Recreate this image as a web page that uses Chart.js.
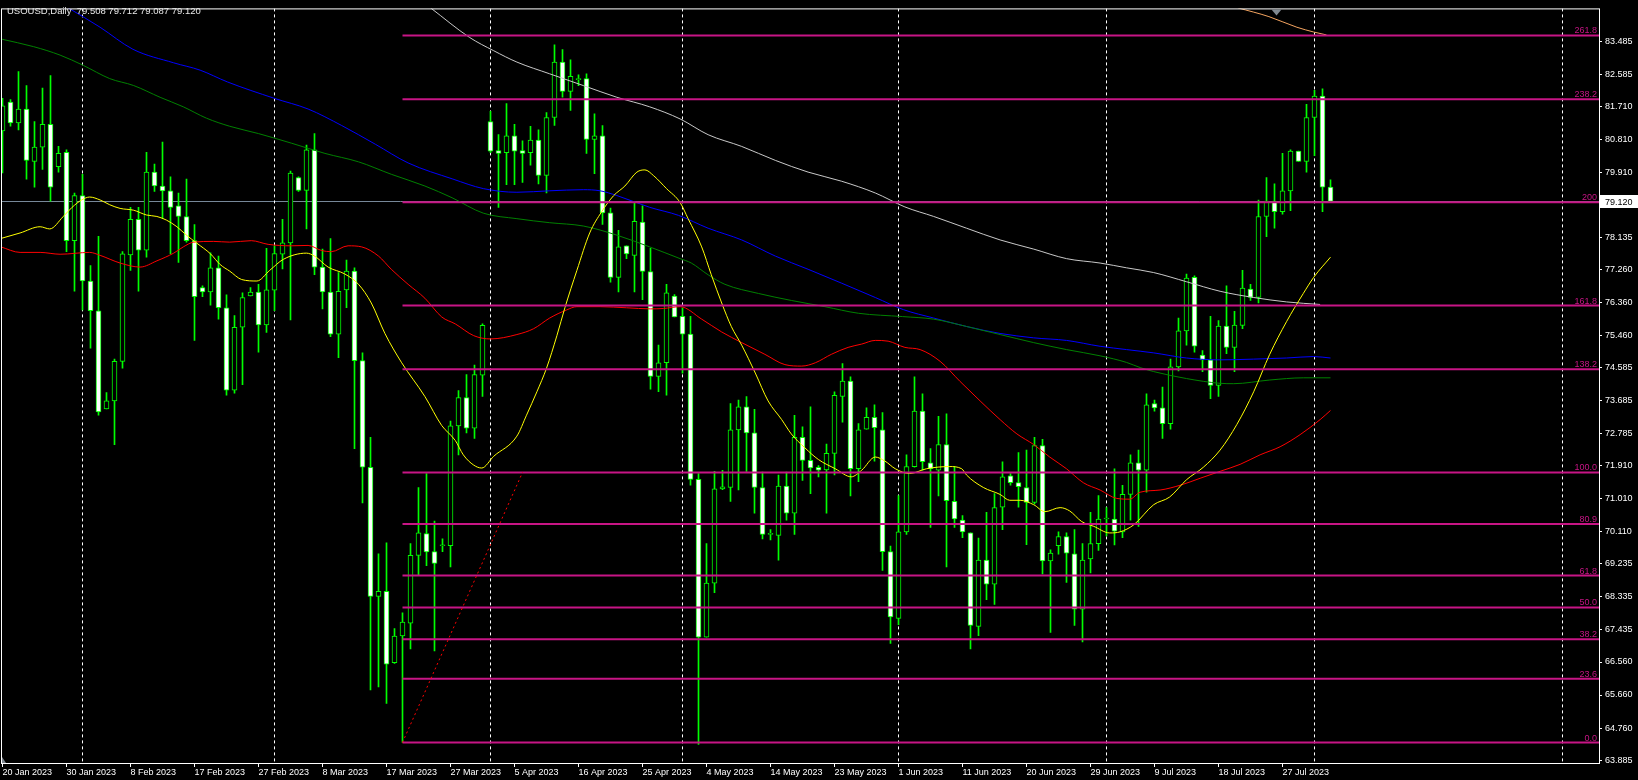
<!DOCTYPE html>
<html>
<head>
<meta charset="utf-8">
<title>USOUSD Daily</title>
<script src="https://cdn.jsdelivr.net/npm/chart.js@4.4.0/dist/chart.umd.min.js"></script>
<style>
  html, body { margin: 0; padding: 0; background: #000; }
  #wrap { position: relative; width: 1638px; height: 780px; }
</style>
</head>
<body>
<div id="wrap"><canvas id="chart"></canvas></div>
<script>
// USOUSD daily candles, 20 Jan 2023 .. 3 Aug 2023 (bar index = position)

const headerText = 'USOUSD,Daily  79.508 79.712 79.087 79.120';

const openP = [
  81.04, 81.83, 81.26, 81.64, 80.21, 80.60, 81.22, 80.07, 80.46, 78.05,
  79.28, 76.95, 76.14, 73.46, 73.68, 74.76, 77.66, 78.63, 77.79, 79.92,
  79.54, 79.41, 79.00, 78.71, 78.05, 76.77, 76.65, 77.31, 76.22, 73.97,
  75.69, 76.54, 76.65, 75.75, 76.70, 77.68, 77.99, 79.77, 79.42, 80.53,
  77.33, 76.65, 75.50, 76.71, 77.22, 74.78, 71.87, 68.35, 68.49, 66.54,
  67.27, 67.62, 69.47, 70.06, 69.57, 69.73, 69.73, 73.00, 73.77, 72.94,
  74.38, 81.30, 80.51, 80.45, 80.91, 80.51, 80.45, 80.79, 79.83, 81.41,
  82.92, 82.12, 82.44, 82.47, 80.81, 80.91, 78.81, 77.05, 77.91, 77.65,
  78.56, 77.21, 74.35, 74.72, 76.54, 75.99, 75.50, 71.54, 67.24, 68.71,
  71.28, 71.32, 72.89, 73.52, 72.81, 71.32, 70.04, 70.01, 71.36, 70.62,
  72.69, 72.06, 71.87, 71.80, 72.25, 73.80, 74.22, 71.83, 72.91, 73.23,
  72.89, 69.57, 67.75, 70.11, 71.89, 73.40, 71.99, 71.79, 72.49, 70.94,
  70.43, 70.08, 67.53, 69.34, 68.68, 70.78, 71.64, 71.45, 71.32, 70.91,
  72.46, 69.32, 69.73, 69.98, 69.51, 68.00, 69.37, 69.79, 70.46, 70.46,
  70.11, 71.13, 71.99, 71.79, 73.61, 73.49, 73.06, 74.61, 75.59, 77.05,
  74.93, 74.80, 74.10, 75.72, 75.14, 75.74, 76.73, 76.50, 78.71, 79.13,
  78.84, 79.41, 80.49, 80.21, 81.41, 81.99, 79.508
];
const highP = [
  81.93, 81.90, 82.66, 82.28, 81.30, 82.21, 82.55, 80.62, 80.53, 79.35,
  79.86, 77.37, 78.17, 73.91, 74.82, 77.75, 78.96, 78.96, 80.46, 80.14,
  80.74, 79.79, 79.35, 79.73, 78.49, 76.82, 77.72, 77.63, 76.57, 76.01,
  76.63, 76.77, 76.86, 77.84, 77.91, 78.63, 79.95, 79.79, 80.66, 80.97,
  77.82, 78.11, 77.18, 77.52, 77.31, 74.99, 72.69, 69.51, 69.81, 67.47,
  67.90, 69.79, 71.32, 71.70, 70.40, 69.92, 73.13, 73.96, 74.40, 74.66,
  75.78, 81.58, 80.94, 81.79, 81.22, 80.77, 81.17, 81.07, 81.54, 83.39,
  83.26, 82.98, 82.57, 82.60, 81.51, 81.19, 78.94, 78.33, 77.91, 79.09,
  79.00, 77.84, 75.20, 76.86, 76.58, 76.22, 75.99, 71.70, 69.79, 71.76,
  71.79, 73.61, 73.70, 73.80, 73.45, 71.74, 70.17, 71.66, 71.74, 73.29,
  72.97, 73.52, 71.92, 72.50, 73.93, 74.70, 74.34, 73.06, 73.49, 73.57,
  73.36, 69.72, 71.10, 72.21, 74.34, 73.87, 72.38, 73.26, 73.33, 71.89,
  70.55, 70.08, 69.94, 70.64, 71.15, 72.02, 71.70, 72.27, 72.34, 72.69,
  72.63, 69.62, 70.11, 70.08, 70.17, 69.79, 70.64, 71.10, 70.77, 71.83,
  71.38, 72.21, 72.34, 73.87, 73.70, 74.06, 74.82, 75.94, 77.14, 77.09,
  75.05, 75.99, 75.87, 76.82, 76.12, 77.24, 76.86, 79.16, 79.77, 79.60,
  80.43, 80.53, 80.49, 81.77, 82.15, 82.19, 79.712
];
const lowP = [
  79.90, 81.17, 81.07, 79.73, 79.51, 79.99, 79.13, 79.92, 77.75, 76.67,
  76.16, 75.12, 73.29, 73.46, 72.49, 74.57, 77.24, 76.67, 77.60, 79.39,
  78.65, 77.69, 77.46, 78.01, 75.33, 76.52, 76.29, 75.91, 73.84, 73.89,
  74.12, 76.54, 75.01, 75.55, 76.14, 77.28, 75.89, 79.39, 78.37, 77.12,
  76.19, 75.43, 74.86, 76.22, 72.38, 70.90, 65.80, 65.88, 65.43, 66.52,
  64.37, 66.92, 68.92, 69.19, 66.86, 69.57, 69.15, 72.21, 72.81, 72.66,
  73.80, 80.45, 78.96, 79.58, 79.58, 79.64, 80.11, 79.60, 79.35, 81.19,
  81.96, 81.60, 82.28, 80.43, 79.88, 78.49, 76.92, 76.65, 77.56, 76.65,
  76.44, 74.00, 73.93, 73.84, 75.97, 74.44, 71.38, 64.31, 67.24, 68.45,
  71.26, 70.94, 71.25, 71.76, 70.62, 69.92, 69.89, 69.34, 70.43, 70.04,
  71.51, 71.15, 71.61, 70.62, 71.66, 73.10, 71.09, 71.48, 72.91, 72.04,
  69.06, 67.07, 67.58, 70.04, 71.87, 71.79, 70.23, 71.09, 69.15, 70.23,
  69.95, 66.92, 67.28, 68.26, 68.13, 70.17, 71.38, 70.78, 69.76, 70.87,
  68.96, 67.37, 69.50, 68.73, 67.56, 67.11, 68.99, 69.60, 70.00, 69.75,
  69.95, 70.43, 70.26, 71.19, 73.40, 72.66, 72.91, 74.50, 75.20, 75.01,
  74.48, 73.74, 73.80, 74.97, 74.48, 75.65, 76.42, 76.35, 78.16, 78.39,
  78.77, 78.87, 80.21, 79.92, 80.37, 78.84, 79.087
];
const closeP = [
  81.73, 81.26, 81.64, 80.24, 80.60, 81.22, 79.51, 80.43, 78.05, 79.28,
  76.95, 76.14, 73.38, 73.68, 74.76, 77.69, 78.63, 77.79, 79.92, 79.54,
  79.41, 78.96, 78.71, 78.05, 76.52, 76.65, 77.31, 76.22, 73.97, 75.69,
  76.50, 76.65, 75.75, 76.71, 77.70, 77.99, 79.89, 79.42, 80.53, 77.33,
  76.65, 75.50, 76.67, 77.22, 74.78, 71.87, 68.35, 68.49, 66.50, 67.27,
  67.65, 69.47, 70.08, 69.56, 69.25, 69.73, 73.00, 73.77, 72.94, 74.40,
  75.74, 80.49, 80.43, 80.91, 80.49, 80.43, 80.79, 79.83, 81.41, 82.92,
  82.12, 82.53, 82.44, 80.81, 80.91, 78.81, 77.05, 77.88, 77.69, 78.58,
  77.21, 74.35, 74.72, 76.63, 75.97, 75.50, 71.54, 67.24, 68.71, 71.28,
  71.34, 72.89, 73.52, 72.81, 71.32, 70.04, 70.04, 71.36, 70.62, 72.69,
  72.06, 71.85, 71.79, 72.25, 73.83, 74.22, 71.83, 72.89, 73.23, 72.95,
  69.57, 67.79, 70.11, 71.89, 73.40, 72.02, 71.83, 72.49, 70.96, 70.46,
  70.11, 67.56, 69.34, 68.68, 70.77, 71.61, 71.45, 71.34, 70.91, 72.46,
  69.32, 69.53, 69.98, 69.53, 68.00, 69.34, 69.79, 70.46, 70.46, 70.13,
  71.13, 71.99, 71.79, 73.57, 73.49, 73.06, 74.61, 75.59, 77.03, 75.17,
  74.80, 74.10, 75.72, 75.14, 75.75, 76.76, 76.50, 78.71, 79.13, 78.84,
  79.41, 80.49, 80.21, 81.41, 81.99, 79.51, 79.120
];

// moving averages: [bar index, price]
const maYellow = [
  [-0.2,78.11],[2.2,78.26],[4.7,78.43],[5.9,78.37],[7.6,78.71],[8.7,78.96],[9.9,79.16],[10.9,79.24],
  [12.2,79.16],[13.4,79.03],[14.7,78.93],[16.4,78.88],[18,78.75],[19.3,78.71],[20.5,78.61],[21.8,78.43],
  [23,78.20],[24.3,77.98],[26,77.69],[27.2,77.40],[28.4,77.22],[29.9,76.99],[31.8,76.95],[33.4,77.24],
  [35.1,77.54],[38,77.71],[39,77.63],[40.7,77.33],[42.8,77.14],[44.5,76.86],[46.1,76.35],[47.8,75.52],
  [49.9,74.72],[52.8,73.80],[54.9,73.01],[56.6,72.60],[57.6,72.21],[58.9,71.93],[59.9,71.85],[61.4,72.17],
  [64.3,72.72],[65.5,73.29],[66.8,73.93],[68,74.57],[69.3,75.46],[70.3,76.22],[71.8,77.24],[73.4,78.26],
  [74.9,78.84],[76.4,79.28],[77.8,79.54],[79.3,79.92],[80.3,79.98],[81.4,79.82],[83,79.47],[84.7,79.09],
  [85.7,78.65],[87.4,77.88],[88.6,77.12],[89.9,76.35],[91.1,75.71],[92.4,75.20],[94.1,74.44],[95.7,73.68],
  [97.4,73.17],[98.6,72.78],[100.3,72.40],[102,72.08],[104.1,71.83],[106.1,71.61],[107.4,71.79],[109.1,72.15],
  [110.3,72.04],[111.6,71.83],[113.4,71.70],[115.5,71.83],[118.4,71.89],[119.9,71.83],[120.5,71.66],[122.6,71.32],
  [124.7,71.13],[125.9,70.97],[127.2,70.97],[128.9,70.85],[130.3,70.66],[132.2,70.77],[133.4,70.68],[134.9,70.39],
  [136.4,70.26],[138.4,70.08],[139.7,70.11],[141.4,70.30],[143.9,70.85],[145.9,71.06],[148,71.53],[150.1,71.87],
  [152.2,72.34],[154.3,73.04],[156.4,73.93],[158.4,74.95],[160.5,75.84],[162.6,76.61],[163.9,77.05],[166,77.60]
];
const maRed = [
  [-0.2,77.88],[2.2,77.73],[4.7,77.73],[7.2,77.68],[10.9,77.73],[12.2,77.65],[14.7,77.44],[17.2,77.33],
  [19.3,77.50],[21.4,77.71],[22.6,77.88],[23.9,78.01],[26.4,78.03],[28.4,78.01],[31.1,78.05],[33.2,77.95],
  [36.1,77.91],[38.2,77.92],[39.9,77.78],[41.1,77.75],[43.2,77.91],[44.9,77.88],[47,77.63],[48.6,77.27],
  [50.7,76.86],[52.8,76.48],[54.9,75.97],[56.6,75.78],[58.9,75.46],[61,75.37],[64.3,75.49],[66.4,75.65],
  [68.4,75.94],[70.5,76.16],[71.8,76.25],[74.7,76.25],[78,76.22],[81,76.19],[82.6,76.20],[84.7,76.25],
  [87.4,75.91],[89.9,75.56],[92.4,75.27],[95.3,74.95],[97.8,74.67],[99.9,74.63],[101.6,74.72],[103.6,74.95],
  [105.7,75.14],[107.4,75.23],[109.1,75.33],[110.7,75.31],[112.8,75.14],[114.7,75.08],[117.2,74.76],[119.7,74.21],
  [122.2,73.68],[124.7,73.17],[126.8,72.78],[128.9,72.49],[130.9,72.15],[133,71.83],[135.1,71.45],[137.2,71.25],
  [139.3,71.02],[140.9,71.00],[142.2,71.19],[144.7,71.25],[147.2,71.38],[149.7,71.57],[152.2,71.76],[154.7,71.95],
  [157.2,72.21],[159.7,72.43],[162.2,72.76],[164.7,73.17],[166,73.42]
];
const maGreen = [
  [-0.2,83.55],[3.9,83.34],[7.2,83.11],[10.1,82.83],[13.4,82.47],[16.4,82.28],[19.7,81.96],[22.6,81.70],
  [25.5,81.39],[28.4,81.17],[32,80.97],[36.1,80.71],[40.3,80.43],[44.5,80.20],[48.6,79.86],[52.8,79.54],
  [56.2,79.22],[60.1,78.80],[64.3,78.65],[68.4,78.54],[72.6,78.45],[76.8,78.20],[80.9,77.88],[84.7,77.56],
  [86.1,77.44],[88.2,77.12],[90.3,76.86],[94.5,76.61],[98.6,76.42],[102.8,76.25],[107,76.07],[112.5,75.98],
  [116.4,75.91],[120.5,75.71],[124.7,75.49],[128.9,75.27],[133,75.08],[137.2,74.91],[140.5,74.73],[142.2,74.59],
  [143.9,74.48],[148,74.29],[152.2,74.16],[153.9,74.15],[158.4,74.25],[162.6,74.31],[166,74.31]
];
const maBlue = [
  [8.2,84.40],[12.2,83.87],[16.3,83.27],[21.4,82.90],[24.7,82.70],[28.1,82.38],[34,81.93],[38.2,81.64],
  [42.4,81.19],[46.6,80.68],[50.7,80.17],[56.3,79.73],[60.1,79.47],[64.3,79.37],[68.4,79.41],[72.6,79.44],
  [74.7,79.41],[76.8,79.28],[80.9,78.96],[84.5,78.74],[88.2,78.39],[92.4,78.07],[96.6,77.63],[100.7,77.27],
  [104.9,76.89],[109.1,76.50],[112.6,76.17],[116.4,75.94],[120.5,75.71],[124.7,75.52],[128.9,75.40],[133,75.33],
  [137.2,75.17],[140.5,75.08],[143.9,74.99],[148,74.85],[152.2,74.80],[156.4,74.82],[160.5,74.85],[163.9,74.89],
  [166,74.85]
];
const maSilver = [
  [53.5,84.40],[58.4,83.59],[61.4,83.23],[64.3,82.92],[68.4,82.60],[72.6,82.28],[76.8,81.96],[80.9,81.70],
  [84.7,81.37],[88.2,80.94],[92.4,80.62],[96.6,80.24],[100.7,79.92],[104.9,79.67],[109.1,79.35],[112.8,78.97],
  [116.4,78.71],[120.5,78.39],[124.7,78.07],[128.9,77.82],[133,77.56],[137.2,77.44],[140.5,77.31],[143.9,77.18],
  [148,76.93],[152.2,76.67],[156.4,76.50],[160.5,76.38],[164.7,76.31]
];
const maOrange = [[154.4,84.40],[158.3,84.16],[161.8,83.87],[163.9,83.74],[165.5,83.66]];

// fibonacci retracement anchored on the 20 Mar low
const fibLow = 64.365;
const fibHigh = 71.73;
const fibStartBar = 50;
const fibEndBar = 65;
const fibRatios = [0, 23.6, 38.2, 50, 61.8, 80.9, 100, 138.2, 161.8, 200, 238.2, 261.8];
const fibText = ['0.0', '23.6', '38.2', '50.0', '61.8', '80.9', '100.0', '138.2', '161.8', '200', '238.2', '261.8'];

// axes
const dateIdx = [0, 8, 16, 24, 32, 40, 48, 56, 64, 72, 80, 88, 96, 104, 112, 120, 128, 136, 144, 152, 160];
const dateLabels = ['20 Jan 2023', '30 Jan 2023', '8 Feb 2023', '17 Feb 2023', '27 Feb 2023', '8 Mar 2023',
  '17 Mar 2023', '27 Mar 2023', '5 Apr 2023', '16 Apr 2023', '25 Apr 2023', '4 May 2023', '14 May 2023',
  '23 May 2023', '1 Jun 2023', '11 Jun 2023', '20 Jun 2023', '29 Jun 2023', '9 Jul 2023', '18 Jul 2023', '27 Jul 2023'];
const monthStarts = [10, 34, 61, 85, 112, 138, 164, 195];
const priceTicks = [83.485, 82.585, 81.710, 80.810, 79.910, 79.010, 78.135, 77.260, 76.360, 75.460, 74.585,
  73.685, 72.785, 71.910, 71.010, 70.110, 69.235, 68.335, 67.435, 66.560, 65.660, 64.760, 63.885];

const xMin = -0.1875, xMax = 199.5625;
const yMin = 63.806, yMax = 84.384;

const FONT = '"Liberation Sans", Arial, sans-serif';
const FIB_COLOR = '#C71585';
const CANDLE_GREEN = '#00ff00';

const lastClose = closeP[closeP.length - 1];

function maSet(points, color) {
  return {
    type: 'line',
    data: points.map(p => ({ x: p[0], y: p[1] })),
    borderColor: color,
    borderWidth: 1,
    pointRadius: 0,
    cubicInterpolationMode: 'monotone',
    order: 2
  };
}

const wickSet = {
  type: 'bar',
  data: highP.map((h, i) => ({ x: i, y: [lowP[i], h] })),
  backgroundColor: CANDLE_GREEN,
  borderWidth: 0,
  barThickness: 1,
  grouped: false,
  order: 4
};

const bodySet = {
  type: 'bar',
  data: openP.map((o, i) => ({ x: i, y: [o, closeP[i]] })),
  backgroundColor: openP.map((o, i) => (closeP[i] < o ? '#ffffff' : '#000000')),
  borderColor: CANDLE_GREEN,
  borderWidth: 1,
  borderSkipped: false,
  barThickness: 5,
  minBarLength: 1,
  grouped: false,
  order: 3
};

const fibSets = fibRatios.map(r => {
  const lvl = fibLow + (fibHigh - fibLow) * r / 100;
  return {
    type: 'line',
    data: [{ x: fibStartBar, y: lvl }, { x: xMax + 1, y: lvl }],
    borderColor: FIB_COLOR,
    borderWidth: 2,
    pointRadius: 0,
    order: 1
  };
});

const trendSet = {
  type: 'line',
  data: [{ x: fibStartBar, y: fibLow }, { x: fibEndBar, y: fibHigh }],
  borderColor: '#ff0000',
  borderWidth: 1,
  borderDash: [2, 3],
  pointRadius: 0,
  order: 1
};

const mtPlugin = {
  id: 'mt4',
  beforeDatasetsDraw(chart) {
    const { ctx, chartArea: a, scales: { x, y } } = chart;
    ctx.save();
    ctx.beginPath();
    ctx.rect(a.left, a.top, a.right - a.left, a.bottom - a.top);
    ctx.clip();
    // bid line
    const by = Math.round(y.getPixelForValue(lastClose)) + 0.5;
    ctx.strokeStyle = '#778899';
    ctx.lineWidth = 1;
    ctx.beginPath();
    ctx.moveTo(a.left, by);
    ctx.lineTo(a.right, by);
    ctx.stroke();
    // period separators
    ctx.strokeStyle = '#ffffff';
    ctx.setLineDash([3, 3]);
    monthStarts.forEach(m => {
      const px = Math.floor(x.getPixelForValue(m)) + 0.5;
      ctx.beginPath();
      ctx.moveTo(px, a.top);
      ctx.lineTo(px, a.bottom);
      ctx.stroke();
    });
    ctx.restore();
  },
  afterDraw(chart) {
    const { ctx, chartArea: a, scales: { x, y } } = chart;
    ctx.save();
    // fib level labels
    ctx.font = '9px ' + FONT;
    ctx.fillStyle = FIB_COLOR;
    ctx.textAlign = 'right';
    ctx.textBaseline = 'alphabetic';
    fibRatios.forEach((r, k) => {
      const lvl = fibLow + (fibHigh - fibLow) * r / 100;
      const py = y.getPixelForValue(lvl);
      ctx.fillText(fibText[k], a.right - 2, py - 2);
    });
    // frame
    ctx.strokeStyle = '#ffffff';
    ctx.lineWidth = 1;
    ctx.strokeRect(a.left + 0.5, a.top + 0.5, a.right - a.left, a.bottom - a.top);
    // current price box
    const cy = y.getPixelForValue(lastClose);
    ctx.fillStyle = '#ffffff';
    ctx.fillRect(a.right + 1, Math.round(cy) - 6, 38, 13);
    ctx.fillStyle = '#000000';
    ctx.textAlign = 'left';
    ctx.textBaseline = 'middle';
    ctx.fillText(lastClose.toFixed(3), a.right + 6, cy + 1);
    // header
    ctx.fillStyle = '#e8e8e8';
    ctx.font = '9.5px ' + FONT;
    ctx.textBaseline = 'alphabetic';
    ctx.fillText(headerText, 7, 14);
    // chart shift marker
    const sx = x.getPixelForValue(159.25);
    ctx.fillStyle = '#808890';
    ctx.beginPath();
    ctx.moveTo(sx - 5, a.top + 1);
    ctx.lineTo(sx + 5, a.top + 1);
    ctx.lineTo(sx, a.top + 7);
    ctx.closePath();
    ctx.fill();
    // scale marker bottom-left
    ctx.beginPath();
    ctx.moveTo(a.left + 1, a.bottom - 6);
    ctx.lineTo(a.left + 5, a.bottom);
    ctx.lineTo(a.left + 1, a.bottom);
    ctx.closePath();
    ctx.fill();
    ctx.restore();
  }
};

const ctx = document.getElementById('chart').getContext('2d');
new Chart(ctx, {
  type: 'bar',
  data: {
    datasets: [
      wickSet,
      bodySet,
      maSet(maYellow, '#ffff00'),
      maSet(maRed, '#ff0000'),
      maSet(maGreen, '#008000'),
      maSet(maBlue, '#0000ff'),
      maSet(maSilver, '#c8c8c8'),
      maSet(maOrange, '#f4a460'),
      trendSet,
      ...fibSets
    ]
  },
  options: {
    responsive: true,
    maintainAspectRatio: false,
    animation: false,
    devicePixelRatio: 1,
    layout: { padding: { left: 1, top: 1, right: 0, bottom: 0 } },
    plugins: { legend: { display: false }, tooltip: { enabled: false } },
    scales: {
      x: {
        type: 'linear',
        position: 'bottom',
        min: xMin,
        max: xMax,
        bounds: 'data',
        offset: false,
        grid: { offset: false, drawOnChartArea: false, drawTicks: true, tickLength: 4, color: '#ffffff' },
        border: { display: false },
        ticks: {
          autoSkip: false,
          maxRotation: 0,
          minRotation: 0,
          align: 'start',
          padding: 0,
          color: '#ffffff',
          font: { family: FONT, size: 9 },
          callback: (v, idx) => dateLabels[idx]
        },
        afterBuildTicks: s => { s.ticks = dateIdx.map(v => ({ value: v })); },
        afterFit: s => { s.height = 17; }
      },
      y: {
        type: 'linear',
        position: 'right',
        min: yMin,
        max: yMax,
        bounds: 'data',
        beginAtZero: false,
        grid: { drawOnChartArea: false, drawTicks: true, tickLength: 3, color: '#ffffff' },
        border: { display: false },
        ticks: {
          padding: 3,
          color: '#ffffff',
          font: { family: FONT, size: 9 },
          callback: v => Number(v).toFixed(3)
        },
        afterBuildTicks: s => { s.ticks = priceTicks.map(v => ({ value: v })); },
        afterFit: s => { s.width = 39; }
      }
    }
  },
  plugins: [mtPlugin]
});
</script>
</body>
</html>
